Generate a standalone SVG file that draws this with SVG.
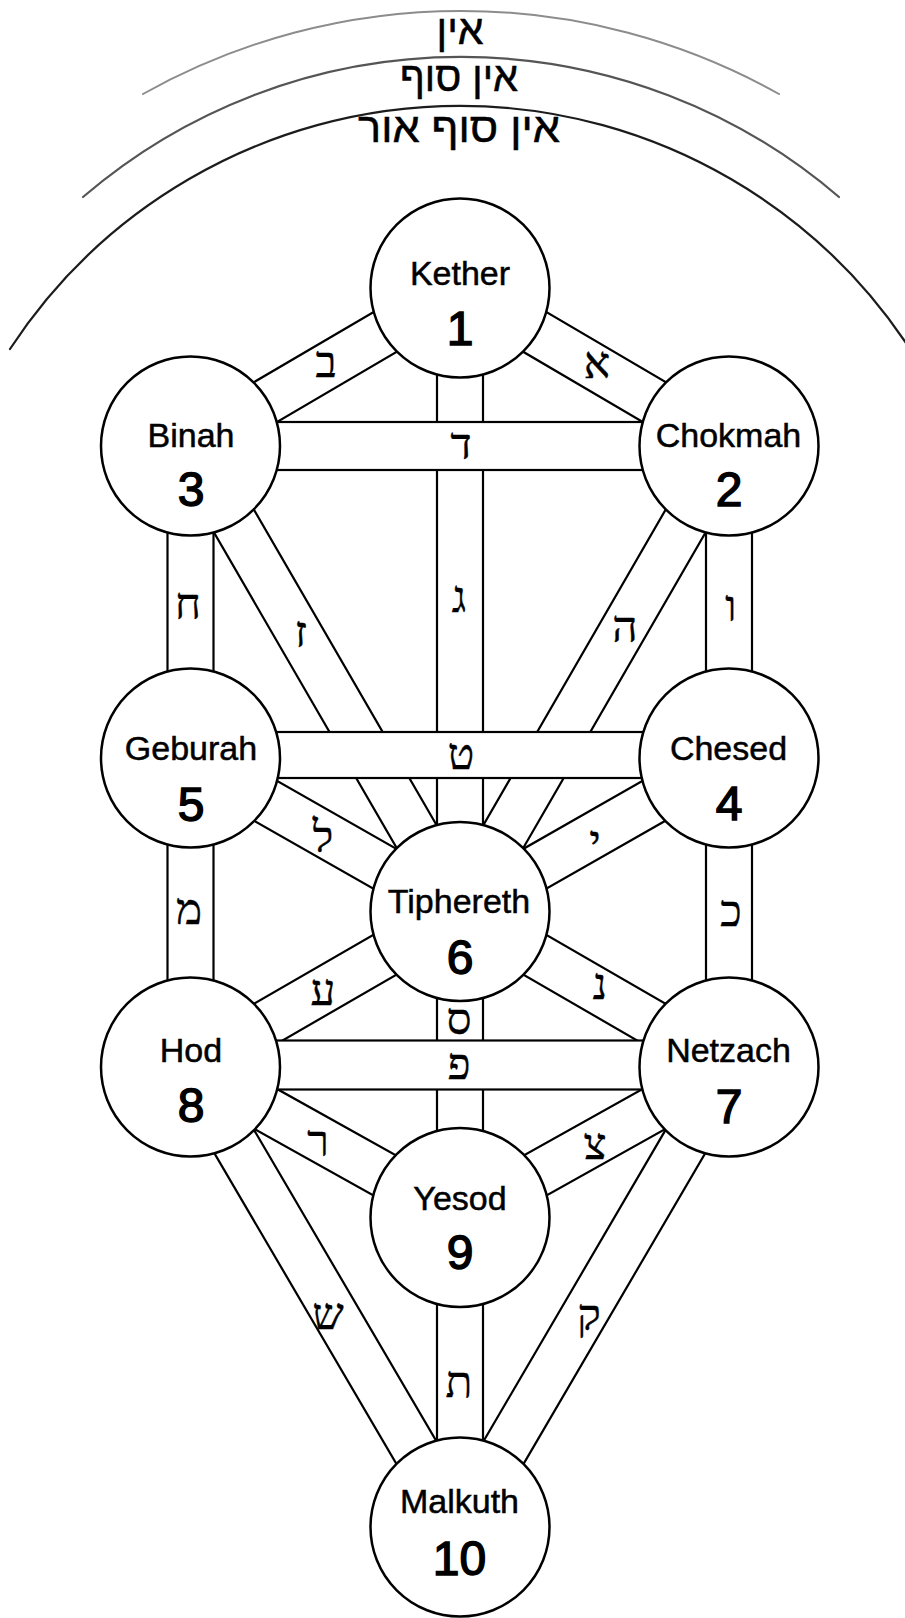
<svg xmlns="http://www.w3.org/2000/svg" width="905" height="1618" viewBox="0 0 905 1618">
  <style>
    .band { fill: #fff; stroke: #000; stroke-width: 2.2; }
    .node circle { fill: #fff; stroke: #000; stroke-width: 2.5; }
    .name { font-family: "Liberation Sans", Arial, sans-serif; font-size: 34px; text-anchor: middle; fill: #000; stroke: #000; stroke-width: 0.5; }
    .num { font-family: "Liberation Sans", Arial, sans-serif; font-size: 48px; text-anchor: middle; fill: #000; stroke: #000; stroke-width: 1.5; }
    .heb { font-family: "Liberation Serif", "DejaVu Serif", serif; font-size: 44px; text-anchor: middle; fill: #000; stroke: #000; stroke-width: 0.4; }
    .veil { font-family: "Liberation Sans", "DejaVu Sans", sans-serif; font-size: 41px; text-anchor: middle; fill: #000; stroke: #000; stroke-width: 0.5; }
    .arc { fill: none; stroke-linecap: round; }
  </style>
  <rect width="905" height="1618" fill="#fff"/>

  <!-- the three veils of negative existence -->
  <g id="veils">
    <path class="arc" d="M 143 94 A 650 650 0 0 1 779 94" stroke="#8c8c8c" stroke-width="2"/>
    <path class="arc" d="M 83 197 A 580 580 0 0 1 839 197" stroke="#555" stroke-width="2.2"/>
    <path class="arc" d="M 10 349 A 538 538 0 0 1 910 349" stroke="#1c1c1c" stroke-width="2.2"/>
    <text class="veil" x="460" y="43.5" textLength="47" lengthAdjust="spacingAndGlyphs">אין</text>
    <text class="veil" x="459" y="90.5" textLength="118" lengthAdjust="spacingAndGlyphs">אין סוף</text>
    <text class="veil" x="459" y="142" textLength="202" lengthAdjust="spacingAndGlyphs">אין סוף אור</text>
  </g>

  <!-- the 22 paths, drawn as white bands; horizontals sit on top -->
  <g id="connectors">
    <!-- aleph: Kether - Chokmah -->
    <rect class="band" x="0" y="-23" width="312" height="46" transform="translate(460 288) rotate(30.43)"/>
    <!-- beth: Binah - Kether -->
    <rect class="band" x="0" y="-23" width="312.4" height="46" transform="translate(190.5 446) rotate(-30.38)"/>
    <!-- gimel: Kether - Tiphereth -->
    <rect class="band" x="437" y="288" width="46" height="623.5"/>
    <!-- heh: Tiphereth - Chokmah -->
    <rect class="band" x="0" y="-23" width="537.6" height="46" transform="translate(460 911.5) rotate(-59.98)"/>
    <!-- vav: Chokmah - Chesed -->
    <rect class="band" x="706" y="446" width="46" height="312"/>
    <!-- zayin: Binah - Tiphereth -->
    <rect class="band" x="0" y="-23" width="537.9" height="46" transform="translate(190.5 446) rotate(59.93)"/>
    <!-- heth: Binah - Geburah -->
    <rect class="band" x="167.5" y="446" width="46" height="312"/>
    <!-- yod: Tiphereth - Chesed -->
    <rect class="band" x="0" y="-23" width="309.7" height="46" transform="translate(460 911.5) rotate(-29.71)"/>
    <!-- kaph: Chesed - Netzach -->
    <rect class="band" x="706" y="758" width="46" height="309"/>
    <!-- lamed: Geburah - Tiphereth -->
    <rect class="band" x="0" y="-23" width="310.2" height="46" transform="translate(190.5 758) rotate(29.67)"/>
    <!-- mem: Geburah - Hod -->
    <rect class="band" x="167.5" y="758" width="46" height="309"/>
    <!-- nun: Tiphereth - Netzach -->
    <rect class="band" x="0" y="-23" width="310.7" height="46" transform="translate(460 911.5) rotate(30.03)"/>
    <!-- samekh: Tiphereth - Yesod -->
    <rect class="band" x="437" y="911.5" width="46" height="306"/>
    <!-- ayin: Hod - Tiphereth -->
    <rect class="band" x="0" y="-23" width="311.1" height="46" transform="translate(190.5 1067) rotate(-29.99)"/>
    <!-- tzaddi: Yesod - Netzach -->
    <rect class="band" x="0" y="-23" width="308.2" height="46" transform="translate(460 1217.5) rotate(-29.23)"/>
    <!-- qoph: Malkuth - Netzach -->
    <rect class="band" x="0" y="-23" width="532.9" height="46" transform="translate(460 1527) rotate(-59.68)"/>
    <!-- resh: Hod - Yesod -->
    <rect class="band" x="0" y="-23" width="308.7" height="46" transform="translate(190.5 1067) rotate(29.18)"/>
    <!-- shin: Hod - Malkuth -->
    <rect class="band" x="0" y="-23" width="533.1" height="46" transform="translate(190.5 1067) rotate(59.63)"/>
    <!-- tav: Yesod - Malkuth -->
    <rect class="band" x="437" y="1217.5" width="46" height="309.5"/>
    <!-- daleth: Binah - Chokmah -->
    <rect class="band" x="190.5" y="422" width="538.5" height="48"/>
    <!-- teth: Geburah - Chesed -->
    <rect class="band" x="190.5" y="732" width="538.5" height="46"/>
    <!-- pe: Hod - Netzach -->
    <rect class="band" x="190.5" y="1040.5" width="538.5" height="49"/>
  </g>

  <!-- path letters -->
  <g id="path-letters">
    <text class="heb" x="597" y="378">א</text>
    <text class="heb" x="326" y="377">ב</text>
    <text class="heb" x="459" y="612">ג</text>
    <text class="heb" x="461" y="459">ד</text>
    <text class="heb" x="625" y="642">ה</text>
    <text class="heb" x="731" y="621">ו</text>
    <text class="heb" x="301" y="647">ז</text>
    <text class="heb" x="188" y="619">ח</text>
    <text class="heb" x="461" y="769">ט</text>
    <text class="heb" x="595" y="856">י</text>
    <text class="heb" x="731" y="926">כ</text>
    <text class="heb" x="323" y="852">ל</text>
    <text class="heb" x="189" y="924">מ</text>
    <text class="heb" x="600" y="999">נ</text>
    <text class="heb" x="459" y="1034">ס</text>
    <text class="heb" x="323" y="1005">ע</text>
    <text class="heb" x="459" y="1079">פ</text>
    <text class="heb" x="595" y="1159">צ</text>
    <text class="heb" x="589" y="1330">ק</text>
    <text class="heb" x="318" y="1156">ר</text>
    <text class="heb" x="328" y="1329">ש</text>
    <text class="heb" x="459" y="1397">ת</text>
  </g>

  <!-- the ten sephiroth -->
  <g id="kether" class="node">
    <circle cx="460" cy="288" r="89.5"/>
    <text class="name" x="460" y="285">Kether</text>
    <text class="num" x="460" y="345">1</text>
  </g>
  <g id="chokmah" class="node">
    <circle cx="729" cy="446" r="89.5"/>
    <text class="name" x="728.5" y="446.5">Chokmah</text>
    <text class="num" x="729" y="506">2</text>
  </g>
  <g id="binah" class="node">
    <circle cx="190.5" cy="446" r="89.5"/>
    <text class="name" x="191" y="446.5">Binah</text>
    <text class="num" x="191" y="506">3</text>
  </g>
  <g id="chesed" class="node">
    <circle cx="729" cy="758" r="89.5"/>
    <text class="name" x="728.5" y="760">Chesed</text>
    <text class="num" x="729" y="820">4</text>
  </g>
  <g id="geburah" class="node">
    <circle cx="190.5" cy="758" r="89.5"/>
    <text class="name" x="191" y="760">Geburah</text>
    <text class="num" x="191" y="821">5</text>
  </g>
  <g id="tiphereth" class="node">
    <circle cx="460" cy="911.5" r="89.5"/>
    <text class="name" x="459" y="913">Tiphereth</text>
    <text class="num" x="460" y="974">6</text>
  </g>
  <g id="netzach" class="node">
    <circle cx="729" cy="1067" r="89.5"/>
    <text class="name" x="728.5" y="1062">Netzach</text>
    <text class="num" x="729" y="1123">7</text>
  </g>
  <g id="hod" class="node">
    <circle cx="190.5" cy="1067" r="89.5"/>
    <text class="name" x="191" y="1062">Hod</text>
    <text class="num" x="191" y="1122">8</text>
  </g>
  <g id="yesod" class="node">
    <circle cx="460" cy="1217.5" r="89.5"/>
    <text class="name" x="460" y="1210">Yesod</text>
    <text class="num" x="460" y="1269">9</text>
  </g>
  <g id="malkuth" class="node">
    <circle cx="460" cy="1527" r="89.5"/>
    <text class="name" x="459.5" y="1513">Malkuth</text>
    <text class="num" x="459.5" y="1575">10</text>
  </g>
</svg>
